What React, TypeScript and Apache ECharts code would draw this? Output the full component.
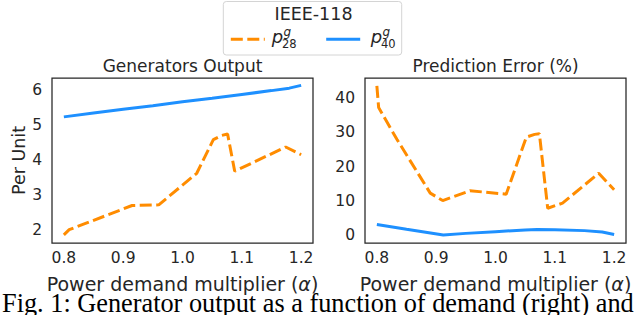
import React, { useEffect, useRef } from 'react';
import * as echarts from 'echarts';

// ---- data ----
const ALPHA_TICKS = [0.8, 0.9, 1.0, 1.1, 1.2];
const OUTPUT_TICKS = [2, 3, 4, 5, 6];
const ERROR_TICKS = [0, 10, 20, 30, 40];

const ALPHA_P28_OUTPUT = [0.8, 0.809, 0.915, 0.96, 1.024, 1.052, 1.066, 1.076, 1.088, 1.174, 1.2];
const P28_OUTPUT = [1.86, 2.01, 2.7, 2.72, 3.62, 4.58, 4.7, 4.74, 3.68, 4.37, 4.15];

const ALPHA_P40_OUTPUT = [0.8, 0.85, 0.9, 0.95, 1.0, 1.05, 1.1, 1.15, 1.18, 1.2];
const P40_OUTPUT = [5.23, 5.34, 5.45, 5.55, 5.66, 5.76, 5.87, 5.98, 6.05, 6.13];

const ALPHA_P28_ERROR = [0.8, 0.803, 0.834, 0.89, 0.911, 0.957, 1.018, 1.052, 1.066, 1.074, 1.088, 1.113, 1.174, 1.2];
const P28_ERROR = [43.5, 37.2, 27.9, 12.3, 10.15, 13.0, 12.0, 28.6, 29.4, 29.6, 7.9, 9.4, 18.1, 13.3];

const ALPHA_P40_ERROR = [0.8, 0.85, 0.912, 0.95, 1.0, 1.05, 1.07, 1.1, 1.15, 1.18, 1.2];
const P40_ERROR = [3.2, 1.8, 0.1, 0.6, 1.1, 1.6, 1.75, 1.65, 1.4, 1.0, 0.3];

const SERIES_NAMES = ['p28', 'p40'];
const LEGEND_SUBSCRIPTS = ['28', '40'];

const ORANGE = '#ff8c00';
const BLUE = '#1e90ff';
const INK = '#262626';
const FONT = 'DejaVu Sans';

const pairs = (xs: number[], ys: number[]) => xs.map((x, i) => [x, ys[i]]);

export default function App() {
  const ref = useRef<HTMLDivElement>(null);

  useEffect(() => {
    if (!ref.current) return;
    const chart = echarts.init(ref.current, null, { renderer: 'svg' });

    const xAxisBase = (gridIndex: number) => ({
      type: 'value',
      gridIndex,
      min: 0.78,
      max: 1.22,
      axisLine: { show: false },
      axisTick: { show: false },
      splitLine: { show: false },
      axisLabel: {
        customValues: ALPHA_TICKS,
        formatter: (v: number) => v.toFixed(1),
        color: INK,
        fontFamily: FONT,
        fontSize: 15.5,
        margin: 7,
      },
      name: 'Power demand multiplier ({a|α})',
      nameLocation: 'middle',
      nameGap: 31,
      nameTextStyle: {
        color: INK,
        fontFamily: FONT,
        fontSize: 19,
        lineHeight: 19,
        rich: {
          a: { color: INK, fontFamily: FONT, fontSize: 19, lineHeight: 19, fontStyle: 'italic' },
        },
      },
    });

    // legend label pieces (math-style p with superscript g and numeric subscript)
    const legendLabelX = [271.7, 370.7];
    const legendLabels: any[] = [];
    legendLabelX.forEach((x, i) => {
      legendLabels.push(
        {
          type: 'text',
          x,
          y: 36,
          style: { text: 'p', font: `italic 18px "${FONT}"`, fill: INK, align: 'left', verticalAlign: 'middle' },
        },
        {
          type: 'text',
          x: x + 11.8,
          y: 32,
          style: { text: 'g', font: `italic 12px "${FONT}"`, fill: INK, align: 'left', verticalAlign: 'middle', lineHeight: 11 },
        },
        {
          type: 'text',
          x: x + 10.3,
          y: 44,
          style: { text: LEGEND_SUBSCRIPTS[i], font: `11.5px "${FONT}"`, fill: INK, align: 'left', verticalAlign: 'middle', lineHeight: 11 },
        }
      );
    });

    const option: any = {
      animation: false,
      backgroundColor: '#ffffff',
      grid: [
        { left: 52, top: 78, width: 261, height: 165, show: true, borderColor: INK, borderWidth: 1.25, backgroundColor: 'transparent' },
        { left: 365, top: 78, width: 261, height: 165, show: true, borderColor: INK, borderWidth: 1.25, backgroundColor: 'transparent' },
      ],
      xAxis: [xAxisBase(0), xAxisBase(1)],
      yAxis: [
        {
          type: 'value',
          gridIndex: 0,
          min: 1.63,
          max: 6.34,
          axisLine: { show: false },
          axisTick: { show: false },
          splitLine: { show: false },
          axisLabel: {
            customValues: OUTPUT_TICKS,
            formatter: (v: number) => String(Math.round(v)),
            color: INK,
            fontFamily: FONT,
            fontSize: 15.5,
            margin: 10,
          },
          name: 'Per Unit',
          nameLocation: 'middle',
          nameGap: 23,
          nameTextStyle: { color: INK, fontFamily: FONT, fontSize: 17.5 },
        },
        {
          type: 'value',
          gridIndex: 1,
          min: -2.2,
          max: 45.8,
          axisLine: { show: false },
          axisTick: { show: false },
          splitLine: { show: false },
          axisLabel: {
            customValues: ERROR_TICKS,
            formatter: (v: number) => String(Math.round(v)),
            color: INK,
            fontFamily: FONT,
            fontSize: 15.5,
            margin: 10,
          },
        },
      ],
      legend: {
        data: SERIES_NAMES,
        left: 229.3,
        top: 33.3,
        padding: 0,
        itemWidth: 34,
        itemHeight: 12,
        itemGap: 58.4,
        selectedMode: false,
        lineStyle: { width: 3 },
        itemStyle: { opacity: 0 },
        formatter: () => '',
        textStyle: { fontSize: 1 },
      },
      graphic: [
        {
          type: 'rect',
          z: -1,
          shape: { x: 223.3, y: 1.5, width: 178.4, height: 53.5, r: 3 },
          style: { fill: '#ffffff', stroke: '#d4d4d4', lineWidth: 1 },
        },
        {
          type: 'text',
          x: 313.5,
          y: 14,
          style: { text: 'IEEE-118', font: `17.5px "${FONT}"`, fill: INK, align: 'center', verticalAlign: 'middle' },
        },
        ...legendLabels,
        {
          type: 'text',
          x: 182.5,
          y: 66,
          style: { text: 'Generators Output', font: `17px "${FONT}"`, fill: INK, align: 'center', verticalAlign: 'middle' },
        },
        {
          type: 'text',
          x: 495.5,
          y: 66,
          style: { text: 'Prediction Error (%)', font: `17px "${FONT}"`, fill: INK, align: 'center', verticalAlign: 'middle' },
        },
        {
          type: 'text',
          x: 2,
          y: 303,
          style: {
            text: 'Fig. 1: Generator output as a function of demand (right) and',
            font: '26.3px "Liberation Serif"',
            fill: '#000000',
            align: 'left',
            verticalAlign: 'middle',
            lineHeight: 20,
          },
        },
      ],
      series: [
        {
          name: 'p28',
          type: 'line',
          xAxisIndex: 0,
          yAxisIndex: 0,
          data: pairs(ALPHA_P28_OUTPUT, P28_OUTPUT),
          symbol: 'none',
          lineStyle: { color: ORANGE, width: 3, type: [12, 4.5] },
          itemStyle: { color: ORANGE },
        },
        {
          name: 'p40',
          type: 'line',
          xAxisIndex: 0,
          yAxisIndex: 0,
          data: pairs(ALPHA_P40_OUTPUT, P40_OUTPUT),
          symbol: 'none',
          lineStyle: { color: BLUE, width: 3 },
          itemStyle: { color: BLUE },
        },
        {
          name: 'p28',
          type: 'line',
          xAxisIndex: 1,
          yAxisIndex: 1,
          data: pairs(ALPHA_P28_ERROR, P28_ERROR),
          symbol: 'none',
          lineStyle: { color: ORANGE, width: 3, type: [12, 4.5] },
          itemStyle: { color: ORANGE },
        },
        {
          name: 'p40',
          type: 'line',
          xAxisIndex: 1,
          yAxisIndex: 1,
          data: pairs(ALPHA_P40_ERROR, P40_ERROR),
          symbol: 'none',
          lineStyle: { color: BLUE, width: 3 },
          itemStyle: { color: BLUE },
        },
      ],
    };

    chart.setOption(option);
    return () => chart.dispose();
  }, []);

  return (
    <div
      ref={ref}
      style={{ position: 'fixed', left: 0, top: 0, width: 640, height: 315, background: '#ffffff' }}
    />
  );
}
